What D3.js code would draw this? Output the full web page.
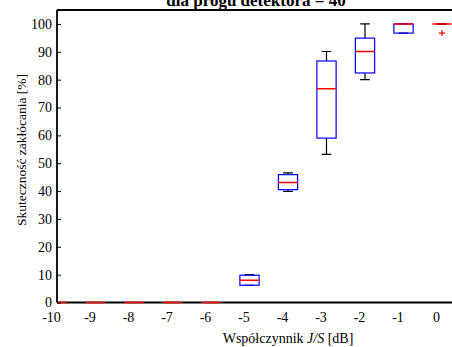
<!DOCTYPE html>
<html>
<head>
<meta charset="utf-8">
<script src="https://cdn.jsdelivr.net/npm/d3@7"></script>
<style>
  body { margin: 0; background: #fff; }
  svg text { font-family: "Liberation Serif", "Times New Roman", "DejaVu Serif", serif; }
</style>
</head>
<body>
<div id="chart"></div>
<script>
// J/S ratio in dB, one box per value
const categories = [-10, -9, -8, -7, -6, -5, -4, -3, -2, -1, 0];
const whiskerLow = [0, 0, 0, 0, 0, 6.2, 39.9, 53.2, 80.0, 96.7, 100];
const q1 = [0, 0, 0, 0, 0, 6.2, 40.5, 59.0, 82.4, 96.7, 100];
const medians = [0, 0, 0, 0, 0, 8.0, 43.1, 76.7, 90.1, 100, 100];
const q3 = [0, 0, 0, 0, 0, 9.8, 45.9, 86.7, 94.9, 100, 100];
const whiskerHigh = [0, 0, 0, 0, 0, 10.0, 46.5, 90.1, 100, 100, 100];
const outliers = [{ x: 0, y: 96.7 }];
const yTicks = [0, 10, 20, 30, 40, 50, 60, 70, 80, 90, 100];

const W = 452, H = 347;
const margin = { top: 10, right: -9, bottom: 44, left: 57 };
const FONT = '"Liberation Serif", "Times New Roman", serif';

const svg = d3.select('#chart').append('svg')
    .attr('width', W)
    .attr('height', H);

const x = d3.scaleLinear()
    .domain([-10, 0])
    .range([margin.left, 442]);
const y = d3.scaleLinear()
    .domain([0, 105])
    .range([H - margin.bottom - 0.5, margin.top]);

const right = x(0.5);
const boxW = x(0.25) - x(0);   // half width of a box (0.5 units wide)
const capW = x(0.125) - x(0);

// axes frame (drawn first so the zero-level medians stay visible on top)
svg.append('line')
    .attr('x1', margin.left).attr('x2', W)
    .attr('y1', margin.top).attr('y2', margin.top)
    .attr('stroke', 'black').attr('stroke-width', 1.8);
svg.append('line')
    .attr('x1', margin.left).attr('x2', W)
    .attr('y1', y(0)).attr('y2', y(0))
    .attr('stroke', 'black').attr('stroke-width', 1.8);
svg.append('line')
    .attr('x1', margin.left).attr('x2', margin.left)
    .attr('y1', margin.top).attr('y2', y(0))
    .attr('stroke', 'black').attr('stroke-width', 1.8);

svg.append('defs').append('clipPath')
    .attr('id', 'clip')
    .append('rect')
    .attr('x', margin.left)
    .attr('y', margin.top - 2)
    .attr('width', right - margin.left)
    .attr('height', y(0) - margin.top + 4);

const boxes = svg.append('g').attr('clip-path', 'url(#clip)');

categories.forEach((c, i) => {
    const cx = x(c);
    const g = boxes.append('g');
    // whiskers
    g.append('line')
        .attr('x1', cx).attr('x2', cx)
        .attr('y1', y(whiskerHigh[i])).attr('y2', y(q3[i]))
        .attr('stroke', 'black').attr('stroke-width', 1.2);
    g.append('line')
        .attr('x1', cx).attr('x2', cx)
        .attr('y1', y(q1[i])).attr('y2', y(whiskerLow[i]))
        .attr('stroke', 'black').attr('stroke-width', 1.2);
    // caps
    [whiskerHigh[i], whiskerLow[i]].forEach(v => {
        g.append('line')
            .attr('x1', cx - capW).attr('x2', cx + capW)
            .attr('y1', y(v)).attr('y2', y(v))
            .attr('stroke', 'black').attr('stroke-width', 1.2);
    });
    // box
    g.append('rect')
        .attr('x', cx - boxW)
        .attr('y', y(q3[i]))
        .attr('width', 2 * boxW)
        .attr('height', Math.max(0, y(q1[i]) - y(q3[i])))
        .attr('fill', 'none')
        .attr('stroke', '#0000ff')
        .attr('stroke-width', 1.2);
    // median
    g.append('line')
        .attr('x1', cx - boxW).attr('x2', cx + boxW)
        .attr('y1', y(medians[i])).attr('y2', y(medians[i]))
        .attr('stroke', '#ff0000').attr('stroke-width', 1.5);
});

// outliers drawn as red plus signs
outliers.forEach(o => {
    const px = x(o.x), py = y(o.y);
    boxes.append('path')
        .attr('d', `M${px - 3},${py}H${px + 3}M${px},${py - 3}V${py + 3}`)
        .attr('stroke', '#ff0000')
        .attr('stroke-width', 1.2);
});

const yAxis = svg.append('g')
    .attr('transform', `translate(${margin.left},0)`)
    .call(d3.axisLeft(y).tickValues(yTicks).tickSize(-4).tickPadding(5));
yAxis.attr('font-family', FONT).attr('font-size', 14);
yAxis.select('.domain').remove();
yAxis.selectAll('text').attr('fill', 'black');

// x tick labels sit a little left of each box, as in the original
const xAxis = svg.append('g')
    .attr('transform', `translate(-6,${y(0)})`)
    .call(d3.axisBottom(x).tickValues(categories).tickSize(0).tickPadding(10).tickFormat(d => String(d)));
xAxis.attr('font-family', FONT).attr('font-size', 14);
xAxis.select('.domain').remove();
xAxis.selectAll('text').attr('fill', 'black');

// title (top part runs off the page)
svg.append('text')
    .attr('x', 256)
    .attr('y', 6)
    .attr('text-anchor', 'middle')
    .attr('font-family', FONT)
    .attr('font-size', 17)
    .attr('font-weight', 'bold')
    .text('dla progu detektora = 40');

const xl = svg.append('text')
    .attr('x', 288)
    .attr('y', 343)
    .attr('text-anchor', 'middle')
    .attr('font-family', FONT)
    .attr('font-size', 14);
xl.append('tspan').text('Współczynnik ');
xl.append('tspan').attr('font-style', 'italic').text('J/S');
xl.append('tspan').text(' [dB]');

svg.append('text')
    .attr('transform', 'translate(26,150) rotate(-90)')
    .attr('text-anchor', 'middle')
    .attr('font-family', FONT)
    .attr('font-size', 13.5)
    .text('Skuteczność zakłócania [%]');
</script>
</body>
</html>
